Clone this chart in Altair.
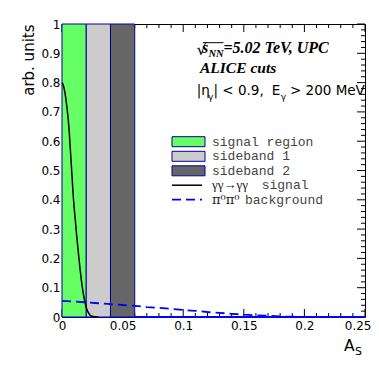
import altair as alt
import pandas as pd

# ---------------- data ----------------
x_domain = [0.0, 0.25]
y_domain = [0.0, 1.0]

band_labels = ["signal region", "sideband 1", "sideband 2"]
band_lo = [0.00, 0.02, 0.04]
band_hi = [0.02, 0.04, 0.06]
band_colors = ["#66ff66", "#cccccc", "#666666"]

sig_a = [0.000, 0.001, 0.002, 0.003, 0.004, 0.005, 0.006, 0.007, 0.008, 0.009,
         0.010, 0.011, 0.012, 0.013, 0.014, 0.015, 0.016, 0.017, 0.018, 0.019,
         0.020, 0.021, 0.022, 0.023, 0.024, 0.026, 0.028, 0.030]
sig_v = [0.800, 0.792, 0.775, 0.750, 0.718, 0.680, 0.630, 0.565, 0.500, 0.430,
         0.375, 0.330, 0.283, 0.240, 0.200, 0.160, 0.125, 0.095, 0.070, 0.050,
         0.033, 0.021, 0.013, 0.007, 0.004, 0.0015, 0.0005, 0.0]

bkg_a = [0.00, 0.01, 0.02, 0.03, 0.04, 0.05, 0.06, 0.07, 0.08, 0.09, 0.10,
         0.11, 0.12, 0.13, 0.14, 0.15, 0.16, 0.17, 0.18, 0.19, 0.20, 0.25]
bkg_v = [0.055, 0.053, 0.050, 0.047, 0.044, 0.041, 0.038, 0.034, 0.031, 0.028, 0.024,
         0.021, 0.017, 0.014, 0.011, 0.008, 0.006, 0.004, 0.002, 0.001, 0.0, 0.0]

line_labels = [("γγ→γγ", "signal"), ("π⁰π⁰", "background")]

x_major = [0.0, 0.05, 0.1, 0.15, 0.2, 0.25]
y_major = [0.0, 0.1, 0.2, 0.3, 0.4, 0.5, 0.6, 0.7, 0.8, 0.9, 1.0]
x_minor = [round(i * 0.01, 2) for i in range(26) if i % 5]
y_minor = [round(i * 0.02, 2) for i in range(51) if i % 5]

# ---------------- layout ----------------
W, H = 303, 293
NAVY = "#000099"
SANS = "DejaVu Sans"
SERIF = "Liberation Serif"
MONO = "Liberation Mono"

xs = alt.Scale(domain=x_domain, nice=False, zero=False)
ys = alt.Scale(domain=y_domain, nice=False, zero=False)

sig_df = pd.DataFrame({"a": sig_a, "v": sig_v})
bkg_df = pd.DataFrame({"a": bkg_a, "v": bkg_v})
bands_df = pd.DataFrame({"label": band_labels, "lo": band_lo, "hi": band_hi,
                         "color": band_colors,
                         "bottom": [y_domain[0]] * 3, "top": [y_domain[1]] * 3})

last_x = x_major[-1]
x_label_axis = alt.Axis(
    orient="bottom", values=x_major, format="~g", ticks=False, tickSize=0,
    domain=False, grid=False, title=None, labelFont=SANS, labelFontSize=12,
    labelColor="black", labelPadding=3, labelFlush=False, labelOverlap=False,
    labelAlign={"condition": {"test": f"datum.value >= {last_x}", "value": "right"},
                "value": "center"},
    labelOffset={"condition": {"test": f"datum.value >= {last_x}", "value": 6},
                 "value": 0})
y_label_axis = alt.Axis(
    orient="left", values=y_major, format="~g", ticks=False, tickSize=0,
    domain=False, grid=False, labelFont=SANS, labelFontSize=12,
    labelColor="black", labelPadding=2, labelFlush=False, labelOverlap=False,
    title="arb. units", titleFont=SANS, titleFontSize=15,
    titleFontWeight="normal", titleColor="black", titleAngle=270,
    titleAlign="right", titleBaseline="alphabetic", titleX=-29, titleY=0)

layers = []
# axis labels carrier (invisible)
layers.append(alt.Chart(sig_df).mark_point(opacity=0).encode(
    x=alt.X("a:Q", scale=xs, axis=x_label_axis),
    y=alt.Y("v:Q", scale=ys, axis=y_label_axis)))

# inward ROOT-style ticks: tick lengths converted from pixels into data units
MAJ, MIN = 8, 4
xspan = x_domain[1] - x_domain[0]
yspan = y_domain[1] - y_domain[0]


def x_ticks(values, length_px, at_top):
    ln = length_px / H * yspan
    if at_top:
        ya, yb = y_domain[1] - ln, y_domain[1]
    else:
        ya, yb = y_domain[0], y_domain[0] + ln
    df = pd.DataFrame({"xt": values, "ya": [ya] * len(values), "yb": [yb] * len(values)})
    return alt.Chart(df).mark_rule(color="black", strokeWidth=1).encode(
        x=alt.X("xt:Q", scale=xs, axis=None),
        y=alt.Y("ya:Q", scale=ys, axis=None), y2="yb:Q")


def y_ticks(values, length_px):
    ln = length_px / W * xspan
    xa, xb = x_domain[1] - ln, x_domain[1]
    df = pd.DataFrame({"yt": values, "xa": [xa] * len(values), "xb": [xb] * len(values)})
    return alt.Chart(df).mark_rule(color="black", strokeWidth=1).encode(
        y=alt.Y("yt:Q", scale=ys, axis=None),
        x=alt.X("xa:Q", scale=xs, axis=None), x2="xb:Q")


layers.append(x_ticks(x_major, MAJ, False))
layers.append(x_ticks(x_minor, MIN, False))
layers.append(x_ticks(x_major, MAJ, True))
layers.append(x_ticks(x_minor, MIN, True))
layers.append(y_ticks(y_major, MAJ))
layers.append(y_ticks(y_minor, MIN))

# blue baseline along the bottom edge
base_df = pd.DataFrame({"x0": [x_domain[0]], "x1": [x_domain[1]], "y0": [y_domain[0]]})
layers.append(alt.Chart(base_df).mark_rule(color="#0000ff", strokeWidth=2).encode(
    x=alt.X("x0:Q", scale=xs, axis=None), x2="x1",
    y=alt.Y("y0:Q", scale=ys, axis=None)))

# bands
layers.append(alt.Chart(bands_df).mark_rect(stroke=NAVY, strokeWidth=1).encode(
    x=alt.X("lo:Q", scale=xs, axis=None), x2="hi",
    y=alt.Y("bottom:Q", scale=ys, axis=None), y2="top",
    fill=alt.Fill("color:N", scale=None)))

# signal curve
layers.append(alt.Chart(sig_df).mark_line(color="black", strokeWidth=1.5,
                                          interpolate="monotone").encode(
    x=alt.X("a:Q", scale=xs, axis=None), y=alt.Y("v:Q", scale=ys, axis=None)))

# background curve
layers.append(alt.Chart(bkg_df).mark_line(color="#0000ff", strokeWidth=1.8,
                                          strokeDash=[9, 5]).encode(
    x=alt.X("a:Q", scale=xs, axis=None), y=alt.Y("v:Q", scale=ys, axis=None)))


def text_at(txt, x, y, size, font=SANS, style="normal", weight="normal", color="black",
            baseline="alphabetic", align="left"):
    return alt.Chart(pd.DataFrame({"txt": [txt]})).mark_text(
        align=align, baseline=baseline, font=font, fontSize=size, fontStyle=style,
        fontWeight=weight, color=color).encode(
        x=alt.value(x), y=alt.value(y), text="txt:N")


# legend
leg_x0, leg_x1, leg_tx = 110, 143, 150
row_y = [117.7, 132.3, 146.8, 161.2, 175.6]
for i, lab in enumerate(band_labels):
    yc = row_y[i]
    layers.append(alt.Chart(pd.DataFrame({"lab": [lab]})).mark_rect(
        fill=band_colors[i], stroke=NAVY, strokeWidth=1).encode(
        x=alt.value(leg_x0), x2=alt.value(leg_x1),
        y=alt.value(yc - 5), y2=alt.value(yc + 5)))
    layers.append(text_at(lab, leg_tx, yc, 13, font=MONO, color="#444", baseline="middle"))

layers.append(alt.Chart(pd.DataFrame({"lab": ["sig"]})).mark_rule(
    color="black", strokeWidth=1.5).encode(
    x=alt.value(leg_x0), x2=alt.value(leg_x1 - 3), y=alt.value(row_y[3])))
layers.append(alt.Chart(pd.DataFrame({"lab": ["bkg"]})).mark_rule(
    color="#0000ff", strokeWidth=1.8, strokeDash=[9, 5]).encode(
    x=alt.value(leg_x0), x2=alt.value(leg_x1 - 3), y=alt.value(row_y[4])))
layers.append(text_at(line_labels[0][0], leg_tx, row_y[3], 13, font=SERIF, color="#222",
                      baseline="middle"))
layers.append(text_at(line_labels[0][1], 199.7, row_y[3], 13, font=MONO, color="#444",
                      baseline="middle"))
layers.append(text_at(line_labels[1][0], leg_tx, row_y[4], 13, font="DejaVu Serif",
                      color="#222", baseline="middle"))
layers.append(text_at(line_labels[1][1], 183, row_y[4], 13, font=MONO, color="#444",
                      baseline="middle"))

# annotation: sqrt(s_NN)=5.02 TeV, UPC
layers.append(text_at("√", 134.5, 31, 16, font="DejaVu Serif"))
layers.append(alt.Chart(pd.DataFrame({"lab": ["bar"]})).mark_rule(
    color="black", strokeWidth=1).encode(
    x=alt.value(141), x2=alt.value(161.5), y=alt.value(18.7)))
layers.append(text_at("s", 140, 28.7, 16, font=SERIF, style="italic", weight="bold"))
layers.append(text_at("NN", 146.5, 32.7, 10.5, font=SERIF, style="italic", weight="bold"))
layers.append(text_at("=5.02 TeV, UPC", 161.5, 28.7, 16, font=SERIF, style="italic",
                      weight="bold"))
layers.append(text_at("ALICE cuts", 138, 48.7, 15.5, font=SERIF, style="italic",
                      weight="bold"))
# |eta_gamma| < 0.9, E_gamma > 200 MeV
layers.append(text_at("|η", 134.7, 71, 13.5))
layers.append(text_at("γ", 146, 75.5, 9))
layers.append(text_at("| < 0.9,", 151.5, 71, 13.5))
layers.append(text_at("E", 209.7, 71, 13.5))
layers.append(text_at("γ", 218.7, 75.5, 9))
layers.append(text_at("> 200 MeV", 228, 71, 13.5))

# x axis title A_S
layers.append(text_at("A", 282, 326.5, 15.5))
layers.append(text_at("S", 293, 331, 11))

chart = alt.layer(*layers).resolve_axis(x="independent", y="independent").properties(
    width=W, height=H,
    autosize=alt.AutoSizeParams(type="none"),
    padding={"left": 54, "top": 16, "right": 6, "bottom": 45},
    background="white",
).configure_view(stroke="black", strokeWidth=1)

chart.save("out.html", embed_options={"renderer": "svg", "actions": False})
